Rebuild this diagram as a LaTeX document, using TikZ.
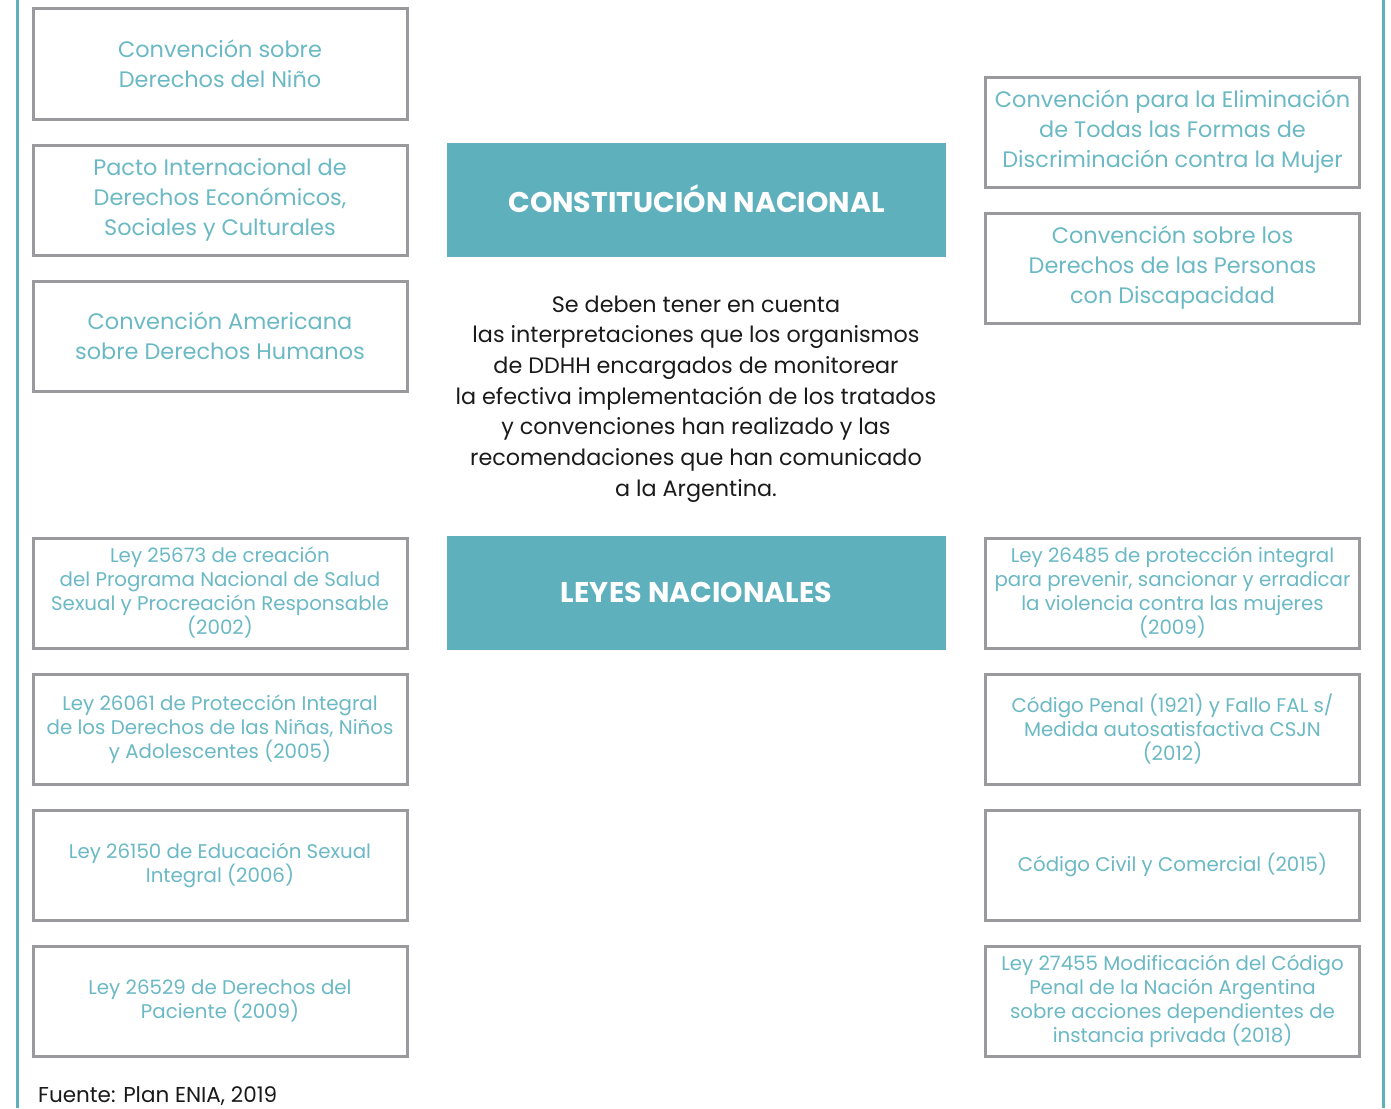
\documentclass[tikz,border=0pt]{standalone}
\usepackage{fontspec}
\setmainfont{Poppins}
\definecolor{teal1}{HTML}{5FB0BD}
\definecolor{tealtxt}{HTML}{6BB9C4}
\definecolor{boxgray}{HTML}{9A9A9E}
\definecolor{darktxt}{HTML}{1A1A1A}
\begin{document}
\begin{tikzpicture}[x=1pt,y=-1pt,
  lbox/.style={draw=boxgray,line width=3pt,minimum width=374pt,minimum height=110pt,inner sep=0pt,align=center,text=tealtxt},
  bigtxt/.style={font=\fontsize{22.4}{30}\selectfont},
  smalltxt/.style={font=\fontsize{19.8}{24}\selectfont},
  head/.style={fill=teal1,minimum width=499pt,minimum height=114pt,inner sep=0pt,text=white,font=\fontsize{28.5}{30}\selectfont\bfseries}]
\useasboundingbox (0,0) rectangle (1391,1108);
\fill[white] (0,0) rectangle (1391,1108);
\coordinate (lt) at (17,0); \coordinate (lb) at (17,1108);
\coordinate (rt) at (1383,0); \coordinate (rb) at (1383,1108);
\draw[teal1,line width=3pt] (lt) -- (lb);
\draw[teal1,line width=3pt] (rt) -- (rb);
% left column
\node[lbox,bigtxt] (l1) at (220,64) {\raisebox{2pt}{\parbox{370pt}{\centering Convención sobre\\Derechos del Niño}}};
\node[lbox,bigtxt] (l2) at (220,200) {Pacto Internacional de\\Derechos Económicos,\\Sociales y Culturales};
\node[lbox,bigtxt] (l3) at (220,336) {Convención Americana\\sobre Derechos Humanos};
\node[lbox,smalltxt] (l4) at (220,593) {Ley 25673 de creación\\del Programa Nacional de Salud\\Sexual y Procreación Responsable\\(2002)};
\node[lbox,smalltxt] (l5) at (220,729) {Ley 26061 de Protección Integral\\de los Derechos de las Niñas, Niños\\y Adolescentes (2005)};
\node[lbox,smalltxt] (l6) at (220,865) {Ley 26150 de Educación Sexual\\Integral (2006)};
\node[lbox,smalltxt] (l7) at (220,1001) {Ley 26529 de Derechos del\\Paciente (2009)};
% right column
\node[lbox,bigtxt] (r1) at (1172.5,132) {Convención para la Eliminación\\de Todas las Formas de\\Discriminación contra la Mujer};
\node[lbox,bigtxt] (r2) at (1172.5,268) {Convención sobre los\\Derechos de las Personas\\con Discapacidad};
\node[lbox,smalltxt] (r3) at (1172.5,593) {Ley 26485 de protección integral\\para prevenir, sancionar y erradicar\\la violencia contra las mujeres\\(2009)};
\node[lbox,smalltxt] (r4) at (1172.5,729) {Código Penal (1921) y Fallo FAL s/\\Medida autosatisfactiva CSJN\\(2012)};
\node[lbox,smalltxt] (r5) at (1172.5,865) {Código Civil y Comercial (2015)};
\node[lbox,smalltxt] (r6) at (1172.5,1001) {Ley 27455 Modificación del Código\\Penal de la Nación Argentina\\sobre acciones dependientes de\\instancia privada (2018)};
% center
\node[head] (cn) at (696.5,200) {\raisebox{2pt}{CONSTITUCIÓN NACIONAL}};
\node[head] (ln) at (696.5,593) {\raisebox{2pt}{LEYES NACIONALES}};
\node[align=center,text=darktxt,font=\fontsize{22.3}{30.7}\selectfont,inner sep=0pt] (txt) at (696,399) {Se deben tener en cuenta\\las interpretaciones que los organismos\\de DDHH encargados de monitorear\\la efectiva implementación de los tratados\\y convenciones han realizado y las\\recomendaciones que han comunicado\\a la Argentina.};
\node[anchor=base west,text=darktxt,font=\fontsize{21.5}{24}\selectfont,inner sep=0pt] (src) at (38,1102) {Fuente: Plan ENIA, 2019};
\end{tikzpicture}
\end{document}
